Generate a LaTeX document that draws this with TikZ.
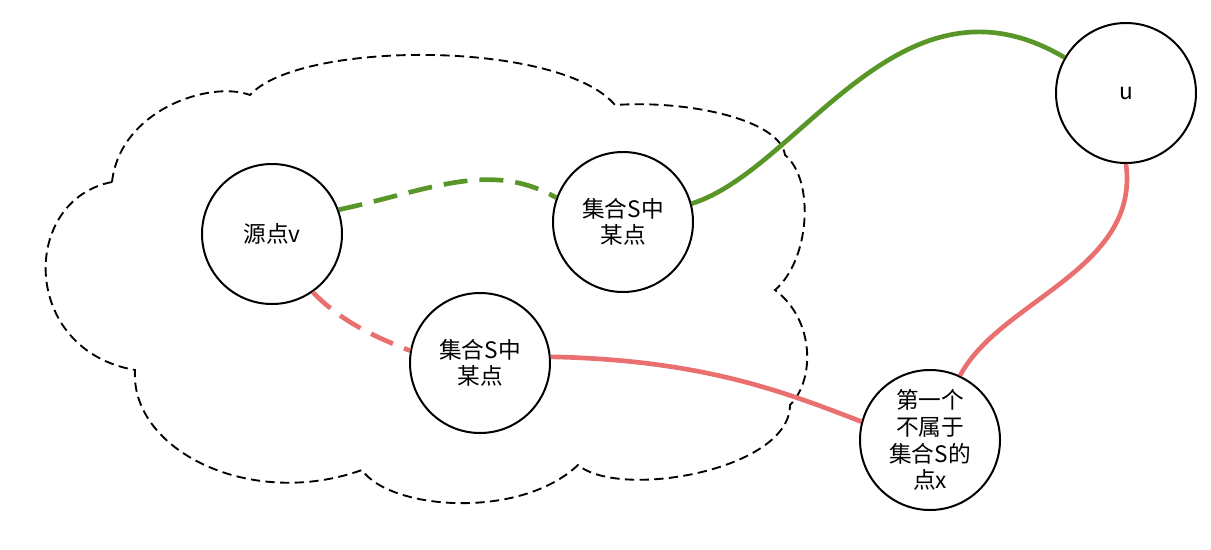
\documentclass[tikz,border=0pt]{standalone}
\usepackage{fontspec}
\setmainfont{Noto Sans CJK SC}
\definecolor{edgegreen}{RGB}{88,150,40}
\definecolor{edgered}{RGB}{234,112,112}
\tikzset{
  pt/.style={circle,draw,line width=1.5pt,minimum size=105pt,inner sep=0pt,align=center,font=\fontsize{17}{20}\selectfont},
  gline/.style={edgegreen,line width=3.5pt},
  rline/.style={edgered,line width=3.5pt},
  dashline/.style={dash pattern=on 18pt off 9pt}
}
\begin{document}
\begin{tikzpicture}[x=0.75pt,y=0.75pt,yscale=-1,xscale=1]
\useasboundingbox (0,0) rectangle (1211,550);

%Cloud
\draw [line width=1.4pt,dash pattern=on 7pt off 4pt]
  (112,182) .. controls (120,110) and (210,80) .. (250,95)
  .. controls (300,40) and (560,40) .. (615,105)
  .. controls (690,100) and (780,120) .. (785,155)
  .. controls (815,180) and (810,260) .. (775,290)
  .. controls (815,320) and (815,380) .. (790,405)
  .. controls (790,470) and (620,500) .. (578,465)
  .. controls (520,520) and (390,510) .. (362,470)
  .. controls (250,510) and (130,450) .. (135,370)
  .. controls (20,350) and (20,200) .. (112,182) -- cycle;

%Points
\node [pt] (v) at (272,234) {源点v};
\node [pt] (s1) at (623,222) {集合S中\\某点};
\node [pt] (s2) at (480,363) {集合S中\\某点};
\node [pt] (u) at (1126,93) {u};
\node [pt] (x) at (930,440) {第一个\\不属于\\集合S的\\点x};

%Paths
\draw [gline,dashline] (v.20) .. controls (430,190) and (490,160) .. (s1.160);
\draw [gline] (s1.15) .. controls (800,170) and (900,-40) .. (u.150);
\draw [rline,dashline] (v.-55) .. controls (340,320) and (370,335) .. (s2.170);
\draw [rline] (s2.5) .. controls (700,360) and (780,390) .. (x.165);
\draw [rline] (u.-90) .. controls (1140,270) and (1000,300) .. (x.65);
\end{tikzpicture}
\end{document}
